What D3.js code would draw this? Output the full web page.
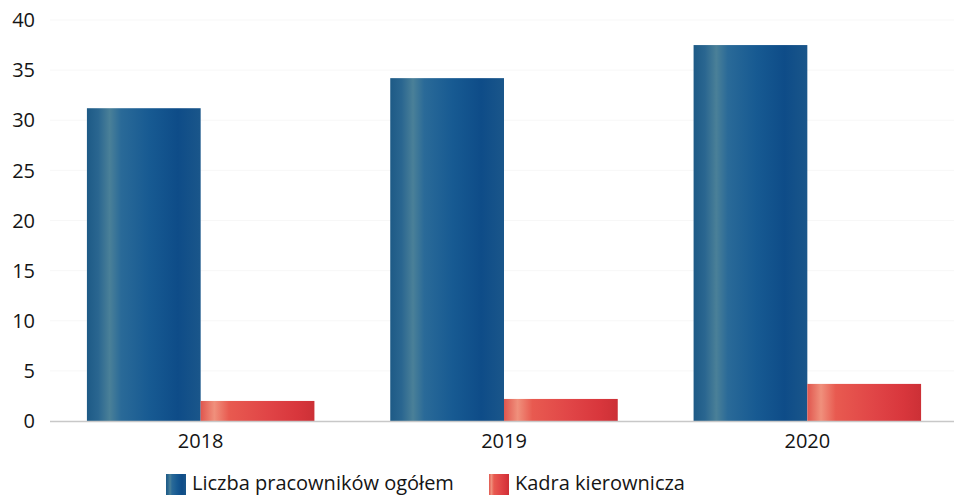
<!DOCTYPE html>
<html><head><meta charset="utf-8">
<script src="https://cdn.jsdelivr.net/npm/d3@7/dist/d3.min.js"></script>
<style>body{margin:0;background:#fff}svg{display:block}</style>
</head><body>
<svg id="c" width="954" height="497"></svg>
<script>
const categories = ["2018", "2019", "2020"];
const seriesNames = ["Liczba pracowników ogółem", "Kadra kierownicza"];
const totalEmployees = [31.2, 34.2, 37.5];
const management = [2.0, 2.2, 3.7];
const yTicks = [0, 5, 10, 15, 20, 25, 30, 35, 40];

const svg = d3.select("#c");
const defs = svg.append("defs");
function grad(id, stops) {
  const g = defs.append("linearGradient").attr("id", id).attr("x1", "0%").attr("x2", "100%").attr("y1", "0%").attr("y2", "0%");
  stops.forEach(([o, c]) => g.append("stop").attr("offset", o).attr("stop-color", c));
}
grad("gBlue", [["0%", "#1d5a86"], ["10%", "#2a6690"], ["20%", "#4a8098"], ["30%", "#2a6a98"], ["55%", "#175a92"], ["80%", "#0e4c88"], ["100%", "#1a568a"]]);
grad("gRed", [["0%", "#e0564e"], ["12%", "#f0907c"], ["25%", "#e85a50"], ["60%", "#e04446"], ["85%", "#d8363c"], ["100%", "#cc3036"]]);

const FONT = "Open Sans, sans-serif";
const x = d3.scaleBand().domain(categories).range([49, 959]).paddingInner(0.25).paddingOuter(0.125);
const x1 = d3.scaleBand().domain([0, 1]).range([0, x.bandwidth()]).padding(0);
const y = d3.scaleLinear().domain([0, 40]).range([421, 20]);

// faint gridlines
svg.append("g").selectAll("line").data(yTicks.slice(1)).join("line")
  .attr("x1", 50).attr("x2", 954).attr("y1", d => y(d)).attr("y2", d => y(d))
  .attr("stroke", "#f7f7f7").attr("stroke-width", 1);

// y labels
svg.append("g").selectAll("text").data(yTicks).join("text")
  .attr("x", 35).attr("y", d => y(d)).attr("dy", "0.36em")
  .attr("text-anchor", "end").attr("font-family", FONT)
  .attr("font-size", 20).attr("font-weight", 500).attr("fill", "#151515").text(d => d);

const data = [totalEmployees, management];
const fills = ["url(#gBlue)", "url(#gRed)"];
data.forEach((vals, si) => {
  svg.append("g").selectAll("rect").data(vals).join("rect")
    .attr("x", (d, i) => x(categories[i]) + x1(si))
    .attr("width", x1.bandwidth())
    .attr("y", d => y(d))
    .attr("height", d => y(0) - y(d))
    .attr("fill", fills[si]);
});

// baseline
svg.append("line").attr("x1", 50).attr("x2", 954).attr("y1", y(0) + 0.5).attr("y2", y(0) + 0.5)
  .attr("stroke", "#c8c8c8").attr("stroke-width", 1.5);

// x labels
svg.append("g").selectAll("text").data(categories).join("text")
  .attr("x", d => x(d) + x.bandwidth() / 2).attr("y", 448)
  .attr("text-anchor", "middle").attr("font-family", FONT)
  .attr("font-size", 20).attr("font-weight", 500).attr("fill", "#151515").text(d => d);

// legend
const legendX = [166, 489];
const lg = svg.append("g").selectAll("g").data(seriesNames).join("g")
  .attr("transform", (d, i) => `translate(${legendX[i]},474)`);
lg.append("rect").attr("width", 20).attr("height", 21).attr("fill", (d, i) => fills[i]);
lg.append("text").attr("x", 26).attr("y", 16).attr("font-family", FONT)
  .attr("font-size", 20).attr("font-weight", 500).attr("fill", "#151515").text(d => d);
</script>
</body></html>
